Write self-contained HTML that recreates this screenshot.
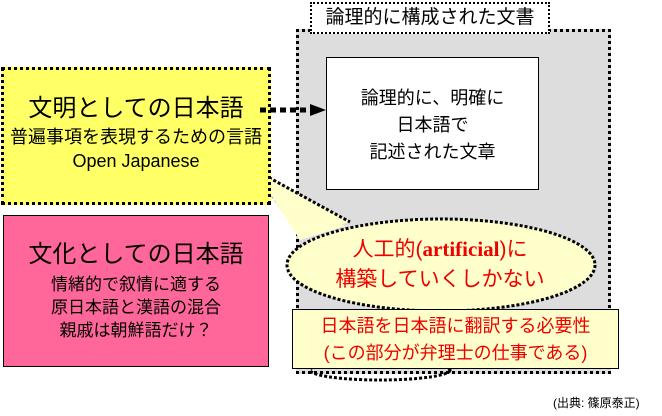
<!DOCTYPE html>
<html><head><meta charset="utf-8"><style>
body{margin:0;width:662px;height:416px;background:#fff;position:relative;overflow:hidden;font-family:"Liberation Sans","Noto Sans CJK JP",sans-serif}
.a{position:absolute;box-sizing:border-box}
.c{text-align:center;white-space:nowrap}
</style></head><body>
<div class="a" style="left:296px;top:29px;width:315px;height:345px;background:#ddd;border:3px dotted #000"></div>
<div class="a c" style="left:310px;top:2px;width:240px;height:32px;background:#fff;border:2px dotted #000;font-size:19px;line-height:28px">論理的に構成された文書</div>
<div class="a c" style="left:326px;top:57px;width:213px;height:133px;background:#fff;border:1px solid #000;font-size:18px;line-height:27px;padding-top:27px">論理的に、明確に<br>日本語で<br>記述された文章</div>
<svg class="a" style="left:0;top:0" width="662" height="416">
<ellipse cx="441" cy="265" rx="154" ry="46" fill="#ffffcc" stroke="#000" stroke-width="3" stroke-dasharray="3 2"/>
<path d="M300 235 L255 170 L350 222" fill="#ffffcc" stroke="#000" stroke-width="3" stroke-dasharray="3 2"/>
<path d="M300 240 L258 175 L345 226 Z" fill="#ffffcc"/>
<ellipse cx="380" cy="370" rx="70" ry="10" fill="none" stroke="#000" stroke-width="3" stroke-dasharray="3 2"/>
</svg>
<div class="a" style="left:1px;top:67px;width:270px;height:138px;background:#ffff66;border:3px dotted #000"></div>
<div class="a c" style="left:1px;top:94px;width:270px;font-size:24px;line-height:30px">文明としての日本語</div>
<div class="a c" style="left:1px;top:125px;width:270px;font-size:18px;line-height:24px">普遍事項を表現するための言語<br>Open Japanese</div>
<svg class="a" style="left:0;top:0" width="662" height="416">
<path d="M260 110 L312 110" stroke="#000" stroke-width="5" stroke-dasharray="6 4"/>
<path d="M310 104 L326 110 L310 116 Z" fill="#000"/>
</svg>
<div class="a" style="left:3px;top:215px;width:266px;height:152px;background:#ff6699;border:1px solid #000"></div>
<div class="a c" style="left:3px;top:240px;width:266px;font-size:24px;line-height:30px">文化としての日本語</div>
<div class="a c" style="left:3px;top:273px;width:266px;font-size:17px;line-height:23px">情緒的で叙情に適する<br>原日本語と漢語の混合<br>親戚は朝鮮語だけ？</div>
<div class="a c" style="left:290px;top:234px;width:300px;font-size:21px;line-height:30px;color:#e00">人工的(<b style="font-family:'Liberation Serif',serif">artificial</b>)に<br>構築していくしかない</div>
<div class="a c" style="left:292px;top:309px;width:327px;height:60px;background:#ffffcc;border:1px solid #000;font-size:18px;line-height:27px;color:#e00;padding-top:3px">日本語を日本語に翻訳する必要性<br>(この部分が弁理士の仕事である)</div>
<div class="a" style="left:553px;top:394px;font-size:12px;white-space:nowrap">(出典: 篠原泰正)</div>
</body></html>
